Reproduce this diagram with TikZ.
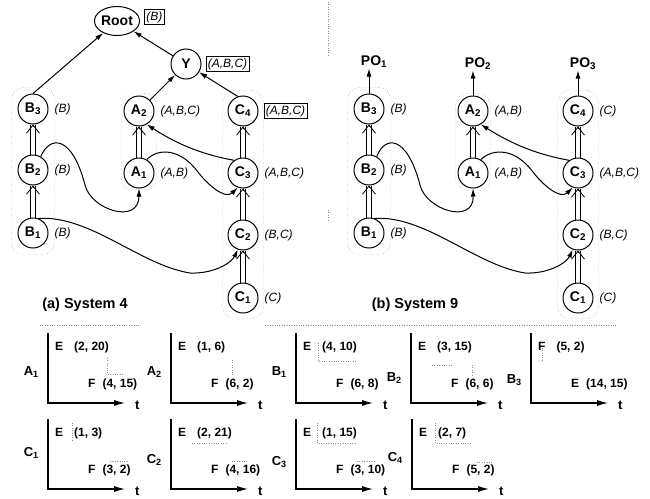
\documentclass[tikz,border=0pt]{standalone}
\usepackage{fontspec}
\setmainfont{Liberation Sans}
\usetikzlibrary{positioning, arrows.meta, shapes.geometric, fit}

\begin{document}
\begin{tikzpicture}[x=1pt, y=-1pt,
  unit/.style={draw, circle, line width=1pt, minimum size=30pt, inner sep=0pt, font=\fontsize{14}{16}\selectfont\bfseries},
  tag/.style={font=\fontsize{12}{14}\selectfont\itshape, inner sep=1pt},
  boxtag/.style={tag, draw, line width=0.8pt, inner sep=2pt},
  grp/.style={draw=black!55, dotted, rounded corners=12pt, thin},
  rail/.style={line width=0.9pt},
  vtip/.style={line width=0.8pt, -{Straight Barb[length=8pt, width=13pt]}},
  dep/.style={line width=1pt, -{Latex[length=8pt, width=5pt]}},
  flow/.style={line width=1pt, -{Latex[length=8pt, width=5pt]}},
  axisline/.style={line width=1.1pt, -{Latex[length=11pt, width=6pt]}},
  chartlbl/.style={font=\fontsize{13}{15}\selectfont\bfseries, inner sep=1pt},
  chartxt/.style={font=\fontsize{12}{14}\selectfont\bfseries, anchor=west, inner sep=0pt},
  trace/.style={black!45, dotted, thin},
  caption/.style={font=\fontsize{14.5}{17}\selectfont\bfseries}]
  \useasboundingbox (0,0) rectangle (650,498);

  % Separators
  \draw[trace] (40,325) -- (140,325) (265,325) -- (617,325);
  \draw[trace] (328,2) -- (328,55) (328,210) -- (328,222);

  % (a) System 4 -- root and joint node
  \node[draw, ellipse, line width=1pt, minimum width=42pt, minimum height=29pt, inner sep=0pt,
        font=\fontsize{14}{16}\selectfont\bfseries] (Root) at (117,21) {Root};
  \node[boxtag, right=4pt of Root, yshift=4pt] (Root-t) {(B)};
  \node[unit] (Y) at (186,64) {Y};
  \node[boxtag, right=4pt of Y] (Y-t) {(A,B,C)};

  % (a) System 4 -- tasks
  \foreach \l/\d/\x/\y/\t/\st in {B/3/33/109/(B)/tag, A/2/139/111/{(A,B,C)}/tag, C/4/243/111/{(A,B,C)}/boxtag,
      B/2/33/170/(B)/tag, A/1/139/173/{(A,B)}/tag, C/3/243/173/{(A,B,C)}/tag,
      B/1/33/233/(B)/tag, C/2/243/235/{(B,C)}/tag, C/1/243/298/(C)/tag} {
    \node[unit] (a\l\d) at (\x,\y) {\l\textsubscript{\d}};
    \node[\st, right=5pt of a\l\d] (a\l\d-t) {\t};
  }

  % (b) System 9 -- tasks
  \foreach \l/\d/\x/\y/\t in {B/3/369/109/(B), A/2/473/111/{(A,B)}, C/4/578/111/(C),
      B/2/369/170/(B), A/1/473/173/{(A,B)}, C/3/578/173/{(A,B,C)},
      B/1/369/233/(B), C/2/578/235/{(B,C)}, C/1/578/298/(C)} {
    \node[unit] (b\l\d) at (\x,\y) {\l\textsubscript{\d}};
    \node[tag, right=5pt of b\l\d] (b\l\d-t) {\t};
  }

  % Groups and chains (double rails with open tips)
  \foreach \s in {a,b} {
    \node[grp, fit=(\s B1)(\s B3), inner sep=6pt] (\s Bgrp) {};
    \node[grp, fit=(\s A1)(\s A2), inner sep=2pt] (\s Agrp) {};
    \node[grp, fit=(\s C1)(\s C4), inner sep=5pt] (\s Cgrp) {};
    \foreach \lo/\hi in {B1/B2, B2/B3, A1/A2, C1/C2, C2/C3, C3/C4} {
      \draw[rail] ([xshift=-2.2pt]\s\lo.north) -- ([xshift=-2.2pt]\s\hi.south);
      \draw[rail] ([xshift=2.2pt]\s\lo.north) -- ([xshift=2.2pt]\s\hi.south);
      \draw[vtip] ([yshift=-1pt]\s\hi.south) -- (\s\hi.south);
    }
  }

  % Cross dependencies (same in both systems)
  \foreach \s/\dx in {a/0, b/335} {
    \draw[flow] (\s B2.60) .. controls (\dx+50,135) and (\dx+72,135) .. (\dx+85,185)
                .. controls (\dx+91,210) and (\dx+139,225) .. (\s A1.south);
    \draw[flow] (\s B1.70) .. controls (\dx+90,215) and (\dx+140,265) .. (\dx+190,273)
                .. controls (\dx+215,274) and (\dx+232,262) .. (\s C2.250);
    \draw[flow] (\s A1.60) .. controls (\dx+158,148) and (\dx+180,148) .. (\dx+198,172)
                .. controls (\dx+207,184) and (\dx+225,200) .. (\s C3.250);
    \draw[flow] (\s C3.125) .. controls (\dx+205,155) and (\dx+180,146) .. (\s A2.300);
  }

  % Edges to the root
  \draw[dep] (aB3.north) -- (Root);
  \draw[dep] (Y) -- (Root);
  \draw[dep] (aA2) -- (Y);
  \draw[dep] (aC4.110) -- (Y);

  % Outputs of system 9
  \foreach \n/\i in {B3/1, A2/2, C4/3} {
    \node[font=\fontsize{14}{16}\selectfont\bfseries, inner sep=1pt, above=25pt of b\n, xshift=5pt] (PO\i) {PO\textsubscript{\i}};
    \draw[dep] (b\n.north) -- (b\n.north |- PO\i.south);
  }

  % Captions
  \node[caption] (capA) at (85,305) {(a) System 4};
  \node[caption] (capB) at (415,305) {(b) System 9};

  % Time charts
  \foreach \l/\d/\ax/\top/\ly/\ta/\tp/\ba/\bp in {
      A/1/48/333/39/E/{(2, 20)}/F/{(4, 15)}, A/2/171/333/39/E/{(1, 6)}/F/{(6, 2)},
      B/1/296/333/39/E/{(4, 10)}/F/{(6, 8)}, B/2/411/333/45/E/{(3, 15)}/F/{(6, 6)},
      B/3/531/333/47/F/{(5, 2)}/E/{(14, 15)},
      C/1/48/419/34/E/{(1, 3)}/F/{(3, 2)}, C/2/171/419/41/E/{(2, 21)}/F/{(4, 16)},
      C/3/296/419/43/E/{(1, 15)}/F/{(3, 10)}, C/4/412/419/39/E/{(2, 7)}/F/{(5, 2)}} {
    \draw[axisline] (\ax,\top) -- (\ax,\top+70) -- (\ax+77,\top+70);
    \node[chartlbl, anchor=east] (\l\d-lbl) at (\ax-8,\top+\ly) {\l\textsubscript{\d}};
    \node[chartlbl, anchor=west] (\l\d-t) at (\ax+86,\top+72) {t};
    \node[chartxt] (\l\d-top) at (\ax+7,\top+14) {\ta\hspace{11pt}\tp};
    \node[chartxt] (\l\d-bot) at (\ax+40,\top+51) {\ba\hspace{7pt}\bp};
  }

  % Faint traces inside the charts
  \draw[trace] (107,358) -- (107,374) -- (123,374);
  \draw[trace] (232,360) -- (232,376);
  \draw[trace] (318,343) -- (318,361) -- (357,361);
  \draw[trace] (432,365) -- (453,365) (472,365) -- (472,376);
  \draw[trace] (542,343) -- (542,362);
  \draw[trace] (72,423) -- (72,440) (110,461) -- (128,461);
  \draw[trace] (192,443) -- (228,443) (232,461) -- (248,461);
  \draw[trace] (317,423) -- (317,443) -- (355,443) (357,461) -- (375,461);
  \draw[trace] (435,423) -- (435,443) -- (472,443) (477,462) -- (492,462);
\end{tikzpicture}
\end{document}
